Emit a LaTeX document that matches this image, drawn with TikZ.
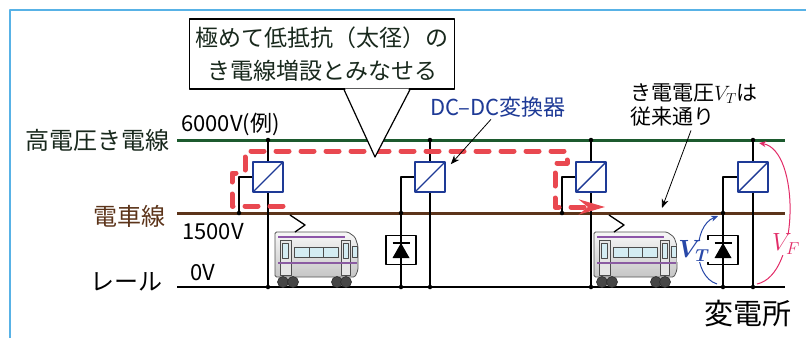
\documentclass[tikz,border=0pt]{standalone}
\usepackage{amsmath}
\usepackage{fontspec}
\setmainfont{Noto Sans CJK JP}
\usepackage{xcolor}
\usepackage{tikz}
\usetikzlibrary{shapes, arrows.meta, positioning}

\definecolor{hvgreen}{RGB}{28,90,46}
\definecolor{wirebrown}{RGB}{92,52,26}
\definecolor{convblue}{RGB}{30,58,150}
\definecolor{flowred}{RGB}{233,72,80}
\definecolor{framebl}{RGB}{88,178,230}
\definecolor{textdark}{RGB}{24,40,28}
\definecolor{arcblue}{RGB}{40,72,168}
\definecolor{arcpink}{RGB}{226,44,104}
\definecolor{trainpurple}{RGB}{140,85,168}
\definecolor{winblue}{RGB}{212,236,242}

% a small commuter car, origin at the top left corner of its body
\tikzset{emu/.pic={
    \draw[gray!65!black, line width=0.8pt, top color=gray!6, bottom color=gray!45, rounded corners=1.5pt]
        (0,0) -- (73,0) -- (80,5) -- (83,14) -- (83,38) -- (80,45) -- (0,45) -- cycle;
    \draw[trainpurple, line width=2pt] (3,5) -- (70,5);
    \draw[gray!60!black, line width=0.7pt, fill=gray!20] (5,8) rectangle (16,43);
    \draw[gray!60!black, line width=0.7pt, fill=gray!20] (66,8) rectangle (75,43);
    \draw[gray!60!black, line width=0.7pt, fill=winblue] (7.5,11) rectangle (13.5,26);
    \draw[gray!60!black, line width=0.7pt, fill=winblue] (68,11) rectangle (73,26);
    \draw[gray!60!black, line width=0.7pt, fill=winblue] (19,15) rectangle (34,25);
    \draw[gray!60!black, line width=0.7pt, fill=winblue] (34,15) rectangle (48,25);
    \draw[gray!60!black, line width=0.7pt, fill=winblue] (48,15) rectangle (63,25);
    \draw[gray!60!black, line width=0.7pt, fill=winblue] (77,14) rectangle (82,25);
    \draw[trainpurple!85!gray, line width=2.5pt] (3,31) -- (82,31);
    \foreach \wx in {8,18,62,71}
        \draw[draw=gray!35!black, fill=gray!55!black, line width=0.6pt] (\wx,50) circle (5.5pt);
    % pantograph
    \draw[black, line width=1.3pt] (15,-17) -- (30,-7) -- (20,0);
}}

\begin{document}
\begin{tikzpicture}[x=1pt, y=-1pt, line join=round]

    % Define styles for the lines, boxes and labels
    \tikzstyle{hvline} = [line width=3pt, hvgreen]
    \tikzstyle{trolley} = [line width=3pt, wirebrown]
    \tikzstyle{rail} = [line width=2pt, black]
    \tikzstyle{wire} = [line width=1.7pt, black]
    \tikzstyle{junction} = [circle, fill=black, inner sep=0pt, minimum size=4.5pt]
    \tikzstyle{conv} = [draw=convblue, line width=1.6pt, fill=white, minimum size=30pt, inner sep=0pt,
        path picture={\draw[convblue, line width=1.4pt] (path picture bounding box.south west) -- (path picture bounding box.north east);}]
    \tikzstyle{diode} = [draw=black, line width=1.6pt, fill=white, minimum width=30pt, minimum height=29pt, inner sep=0pt,
        path picture={
            \draw[black, line width=1.5pt] (path picture bounding box.north) -- (path picture bounding box.south);
            \fill[black] ([xshift=-8.5pt, yshift=-8pt]path picture bounding box.center) -- ([xshift=8.5pt, yshift=-8pt]path picture bounding box.center)
                -- ([yshift=7pt]path picture bounding box.center) -- cycle;
            \draw[black, line width=1.5pt] ([xshift=-8.5pt, yshift=7pt]path picture bounding box.center) -- ([xshift=8.5pt, yshift=7pt]path picture bounding box.center);}]
    \tikzstyle{flow} = [flowred, line width=5pt, line cap=round, dash pattern=on 13pt off 12pt,
        -{Stealth[length=26pt, width=15pt, inset=9pt]}]
    \tikzstyle{note} = [-{Stealth[length=9pt, width=7pt]}, line width=0.8pt, black]
    \tikzstyle{lbl} = [inner sep=0pt]

    \useasboundingbox (0,0) rectangle (806,338);
    \draw[framebl, line width=1.5pt] (10,338) -- (10,10) -- (806,10);

    % feeder, trolley wire and rail
    \coordinate (hvL) at (177,140);
    \coordinate (hvR) at (785,140);
    \coordinate (trL) at (177,213);
    \coordinate (trR) at (785,213);
    \coordinate (rlL) at (177,287);
    \coordinate (rlR) at (785,287);

    \draw[hvline] (hvL) -- (hvR);
    \draw[trolley] (trL) -- (trR);
    \draw[rail] (rlL) -- (rlR);

    \node (hvtext) [lbl, left=7pt of hvL, text=textdark, font=\fontsize{24}{28}\selectfont] {高電圧き電線};
    \node (trtext) [lbl, left=11pt of trL, yshift=-3pt, text=wirebrown, font=\fontsize{24}{28}\selectfont] {電車線};
    \node (rltext) [lbl, left=14pt of rlL, yshift=5pt, font=\fontsize{24}{28}\selectfont] {レール};
    \node (hvvolt) [lbl, above right=4pt and 4pt of hvL, font=\fontsize{22}{26}\selectfont] {6000V(例)};
    \node (trvolt) [lbl, below right=10pt and 5pt of trL, font=\fontsize{22}{26}\selectfont] {1500V};
    \node (rlvolt) [lbl, above right=6pt and 13pt of rlL, font=\fontsize{22}{26}\selectfont] {0V};
    \node (subst) [lbl, below left=13pt and -7pt of rlR, font=\fontsize{29}{32}\selectfont] {変電所};

    % junctions
    \node (hv1) [junction] at (268,140) {};
    \node (hv2) [junction] at (430,140) {};
    \node (hv3) [junction] at (591,140) {};
    \node (hv4) [junction] at (753,140) {};
    \node (tr1) [junction] at (239,213) {};
    \node (tr2) [junction] at (401,213) {};
    \node (tr3) [junction] at (562,213) {};
    \node (tr4) [junction] at (723,213) {};
    \node (rl1) [junction] at (268,287) {};
    \node (rl2a) [junction] at (401,287) {};
    \node (rl2) [junction] at (430,287) {};
    \node (rl3) [junction] at (591,287) {};
    \node (rl4a) [junction] at (723,287) {};
    \node (rl4) [junction] at (753,287) {};

    \draw[wire] (hv1) -- (rl1);
    \draw[wire] (hv2) -- (rl2);
    \draw[wire] (hv3) -- (rl3);
    \draw[wire] (hv4) -- (rl4);
    \draw[wire] (tr2) -- (rl2a);
    \draw[wire] (tr4) -- (rl4a);

    % DC-DC converters and diodes
    \node (conv1) [conv] at (268,177) {};
    \node (conv2) [conv] at (430,177) {};
    \node (conv3) [conv] at (591,177) {};
    \node (conv4) [conv] at (753,177) {};
    \node (diode2) [diode] at (401,250) {};
    \node (diode4) [diode] at (723,250) {};

    \draw[wire] (conv1.west) -| (tr1);
    \draw[wire] (conv2.west) -| (tr2);
    \draw[wire] (conv3.west) -| (tr3);
    \draw[wire] (conv4.west) -| (tr4);

    % trains
    \pic (train1) at (275,232) {emu};
    \pic (train2) at (594,232) {emu};

    % current path through the converters
    \coordinate (flowIn) at (283,206);
    \coordinate (flowOut) at (605,207);
    \draw[flow] (flowIn) -- (232,206) -- (232,173) -- (245,173) -- (245,151) -- (567,151)
        -- (567,163) -- (555,163) -- (555,207) -- (flowOut);

    % callout
    \node (callout) [draw, line width=1.2pt, fill=white, minimum width=265pt, minimum height=70pt, inner sep=0pt,
        align=center, text=textdark, font=\fontsize{23}{33}\selectfont] at (322,54) {極めて低抵抗（太径）の\\き電線増設とみなせる};
    \coordinate (calloutTip) at (375,157);
    \fill[white] ([xshift=23pt, yshift=1pt]callout.south) -- (calloutTip) -- ([xshift=87pt, yshift=1pt]callout.south) -- cycle;
    \draw[line width=1.2pt] ([xshift=22pt]callout.south) -- (calloutTip) -- ([xshift=88pt]callout.south);

    % annotations
    \node (dclabel) [lbl, anchor=west, text=convblue, font=\fontsize{22}{26}\selectfont] at (430,107) {DC–DC変換器};
    \draw[note] ([xshift=-7pt, yshift=-2pt]dclabel.south) -- ([xshift=5pt, yshift=-3pt]conv2.north east);

    \node (vtnote) [lbl, anchor=west, align=left, font=\fontsize{21}{24}\selectfont] at (630,105) {き電電圧$V_T$は\\従来通り};
    \coordinate (feedpt) at (662,208);
    \draw[note] ([xshift=-3pt, yshift=-4pt]vtnote.south) -- (feedpt);

    % voltage arcs
    \draw[arcblue, line width=1pt, -{Stealth[length=7pt, width=6pt]}]
        ([shift={(-6,-3)}]rl4a.center) .. controls +(-25,-8) and +(-25,10) .. ([shift={(-5,3)}]tr4.center);
    \draw[arcpink, line width=1pt, -{Stealth[length=7pt, width=6pt]}]
        ([shift={(4,-3)}]rl4.center) .. controls +(43,-9) and +(41,7) .. ([shift={(6,3)}]hv4.center);
    \node (vtlabel) [fill=white, inner sep=1pt, text=arcblue, font=\fontsize{25}{25}\selectfont] at (694,251) {$\boldsymbol{V_T}$};
    \node (vflabel) [fill=white, inner sep=1pt, text=arcpink, font=\fontsize{24}{24}\selectfont] at (786,244) {$V_F$};

\end{tikzpicture}
\end{document}
